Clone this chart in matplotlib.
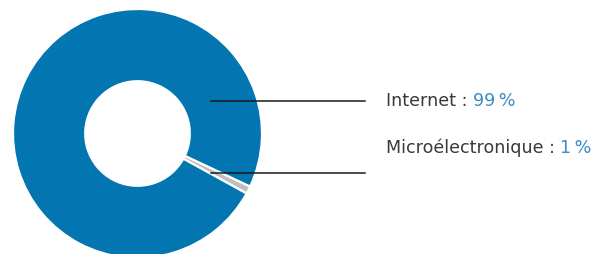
import matplotlib.pyplot as plt

labels = ["Microélectronique", "Internet"]
shares = [1, 99]
colors = ["#BDBDBD", "#0375B0"]

W, H = 608, 254
fig = plt.figure(figsize=(W / 100, H / 100), dpi=100)

# donut: centre (137.5, 133.5) px from top-left, outer radius 124.5 px
cx, cy, r = 137.5, 133.5, 124.5
ax = fig.add_axes([(cx - r) / W, (H - cy - r) / H, 2 * r / W, 2 * r / H])
ax.pie(shares, colors=colors, startangle=-28.8, counterclock=True,
       radius=1.0, wedgeprops=dict(width=0.58, edgecolor="white", linewidth=1.6))
ax.set_xlim(-1, 1)
ax.set_ylim(-1, 1)
ax.set_aspect("equal")
ax.axis("off")


def px(x, y):
    return (x - cx) / r, (cy - y) / r


# leader lines
for y in (101, 173):
    x0, y0 = px(211, y)
    x1, _ = px(365, y)
    ax.plot([x0, x1], [y0, y0], color="#1a1a1a", lw=1.1, clip_on=False)

text_color = "#3a3a3a"
pct_color = "#3A8DC4"
fs = 12.6
rows = [("Internet : ", "99\u2009%", 101), ("Microélectronique : ", "1\u2009%", 148)]

fig.canvas.draw()
renderer = fig.canvas.get_renderer()
for lab, pct, y in rows:
    t = fig.text(386 / W, 1 - y / H, lab, color=text_color, fontsize=fs,
                 family="DejaVu Sans", va="center", ha="left")
    bb = t.get_window_extent(renderer=renderer)
    fig.text(bb.x1 / W, 1 - y / H, pct, color=pct_color, fontsize=fs,
             family="DejaVu Sans", va="center", ha="left")

fig.savefig("out.png", dpi=100)
